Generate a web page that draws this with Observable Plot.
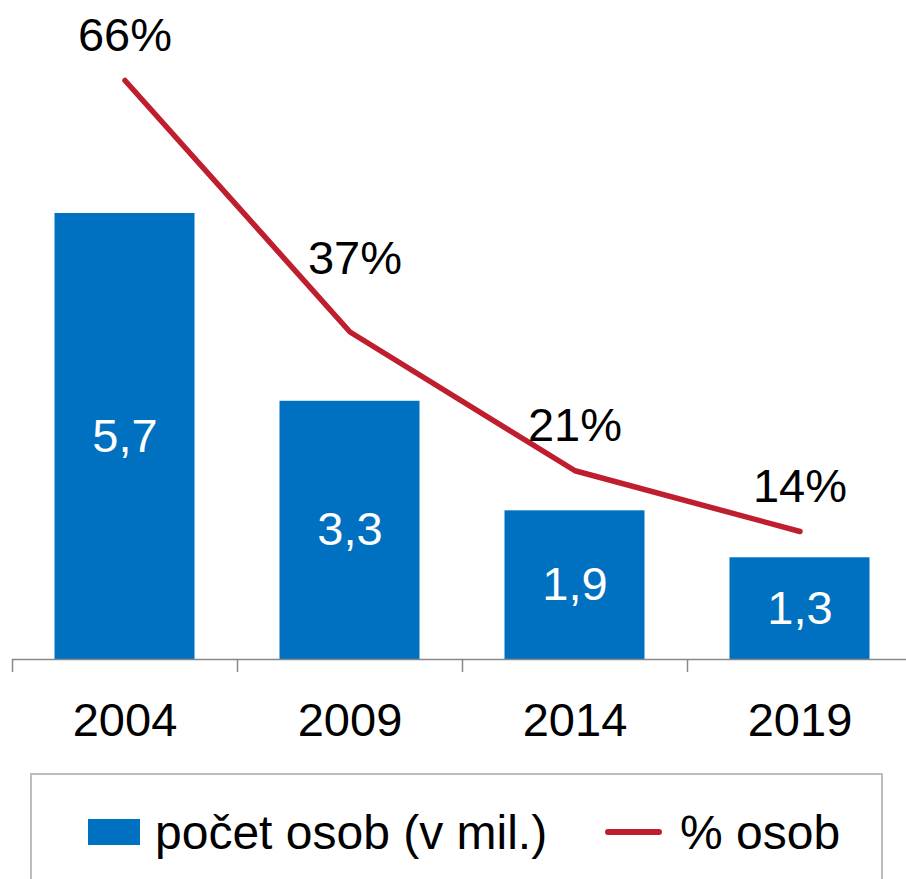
<!DOCTYPE html>
<html>
<head>
<meta charset="utf-8">
<script src="https://cdn.jsdelivr.net/npm/d3@7"></script>
<script src="https://cdn.jsdelivr.net/npm/@observablehq/plot@0.6"></script>
<style>
  html, body { margin: 0; padding: 0; background: #fff; }
  body { font-family: "Liberation Sans", Arial, sans-serif; }
  #wrap { position: relative; width: 906px; height: 879px; overflow: hidden; }
  #legend {
    position: absolute; left: 30px; top: 773px; width: 853px; height: 140px;
    border: 2px solid #BDBDBD; box-sizing: border-box;
  }
  .item { position: absolute; top: 30px; display: flex; align-items: center; height: 54px;
          font-size: 48px; color: #000; white-space: nowrap; }
  .sw-bar { width: 52px; height: 26px; background: #0070C0; margin-right: 15px; }
  .sw-line { width: 57px; height: 6px; border-radius: 3px; background: #BF1E2E; margin-right: 18px; }
</style>
</head>
<body>
<div id="wrap">
  <div id="chart"></div>
  <div id="legend">
    <div class="item" style="left:56px"><div class="sw-bar"></div><span>počet osob (v mil.)</span></div>
    <div class="item" style="left:573px"><div class="sw-line"></div><span>% osob</span></div>
  </div>
</div>
<script>
const years = ["2004", "2009", "2014", "2019"];
const persons = [5.7, 3.3, 1.9, 1.3];
const personLabels = ["5,7", "3,3", "1,9", "1,3"];
const shares = [66, 37, 21, 14];
const shareLabels = ["66%", "37%", "21%", "14%"];

const blue = "#0070C0";
const red = "#BF1E2E";
const axisGray = "#888888";

// secondary (percent) axis mapped onto the primary axis units
const shareToY = p => 0.0843 + 0.11084 * p;

const rows = years.map((year, i) => ({
  year,
  persons: persons[i],
  personLabel: personLabels[i],
  share: shares[i],
  shareLabel: shareLabels[i]
}));

const chart = Plot.plot({
  width: 906,
  height: 762,
  marginLeft: 12,
  marginRight: 0,
  marginTop: 0,
  marginBottom: 103,
  x: { domain: years, range: [12, 912], padding: 0, axis: null },
  y: { domain: [0, 8], range: [659, 33], axis: null },
  style: { fontFamily: "'Liberation Sans', Arial, sans-serif", fontSize: "47px", color: "#000", background: "transparent", overflow: "visible" },
  marks: [
    Plot.barY(rows, { x: "year", y: "persons", fill: blue, insetLeft: 42.5, insetRight: 42.5 }),
    Plot.text(rows, { x: "year", y: d => d.persons / 2, text: "personLabel", fill: "white", fontSize: 47 }),
    Plot.ruleY([0], { stroke: axisGray, strokeWidth: 1.5 }),
    Plot.ruleX(rows, { x: "year", y1: 0, y2: 0, insetBottom: -13, dx: -112.5, stroke: axisGray, strokeWidth: 1.5 }),
    Plot.line(rows, { x: "year", y: d => shareToY(d.share), stroke: red, strokeWidth: 5.5, strokeLinecap: "round", strokeLinejoin: "round" }),
    Plot.text(rows.filter(d => d.share !== 37), { x: "year", y: d => shareToY(d.share), text: "shareLabel", dy: -45, fill: "#000", fontSize: 47 }),
    Plot.text(rows.filter(d => d.share === 37), { x: "year", y: d => shareToY(d.share), text: "shareLabel", dy: -73, dx: 5, fill: "#000", fontSize: 47 }),
    Plot.text(rows, { x: "year", y: 0, text: "year", dy: 61, fill: "#000", fontSize: 47 })
  ]
});
document.getElementById("chart").appendChild(chart);
</script>
</body>
</html>
